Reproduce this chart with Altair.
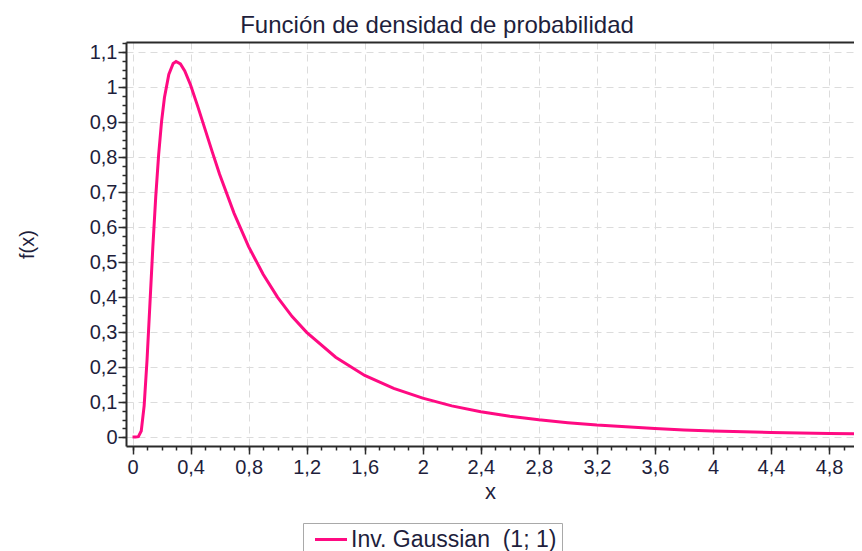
import altair as alt
import pandas as pd

# values
x_vals = [0.0, 0.02, 0.04, 0.06, 0.08, 0.10, 0.12, 0.14, 0.16, 0.18, 0.20, 0.22,
          0.25, 0.28, 0.30, 0.33, 0.36, 0.40, 0.45, 0.50, 0.55, 0.60, 0.70, 0.80,
          0.90, 1.0, 1.1, 1.2, 1.4, 1.6, 1.8, 2.0, 2.2, 2.4, 2.6, 2.8, 3.0, 3.2,
          3.4, 3.6, 3.8, 4.0, 4.4, 4.8, 5.0]
f_vals = [0.0, 0.0, 0.001, 0.017, 0.089, 0.220, 0.381, 0.543, 0.687, 0.807, 0.901, 0.970,
          1.036, 1.067, 1.073, 1.066, 1.046, 1.006, 0.944, 0.879, 0.814, 0.751, 0.639, 0.544,
          0.465, 0.399, 0.344, 0.299, 0.228, 0.176, 0.139, 0.111, 0.089, 0.072, 0.059, 0.049, 0.041, 0.034,
          0.029, 0.024, 0.020, 0.017, 0.013, 0.010, 0.009]
series_name = "Inv. Gaussian\u00a0 (1; 1)"

x_major = [0, 0.4, 0.8, 1.2, 1.6, 2, 2.4, 2.8, 3.2, 3.6, 4, 4.4, 4.8]
x_minor = [round(i * 0.1, 1) for i in range(0, 50)]
y_major = [0, 0.1, 0.2, 0.3, 0.4, 0.5, 0.6, 0.7, 0.8, 0.9, 1.0, 1.1]
y_minor = [round(i * 0.025, 3) for i in range(0, 46)]

df = pd.DataFrame({"x": x_vals, "f": f_vals, "serie": [series_name] * len(x_vals)})

TEXT = "#1e1e3c"
FONT = "Liberation Sans"
AXC = "#2a2a2a"
comma = "replace(format(datum.value, '.2~f'), '.', ',')"

xs = alt.Scale(domain=[-0.045, 4.972], nice=False, zero=False)
ys = alt.Scale(domain=[-0.0257, 1.1286], nice=False, zero=False)

main = alt.Chart(df).mark_line(strokeWidth=3, clip=True).encode(
    x=alt.X("x:Q", scale=xs, axis=alt.Axis(
        orient="bottom", values=x_major, tickSize=8, tickWidth=1.5, tickColor=AXC,
        domainColor=AXC, domainWidth=2, labelExpr=comma, labelFont=FONT,
        labelFontSize=20, labelColor=TEXT, labelPadding=3, labelFlush=False,
        labelOverlap=False, grid=True, gridColor="#dcdcdc", gridDash=[7, 5], gridWidth=1,
        title="x", titleFont=FONT, titleFontSize=22, titleFontWeight="normal",
        titleColor=TEXT, titleX=364, titleY=45, titleBaseline="middle", titleAlign="center")),
    y=alt.Y("f:Q", scale=ys, axis=alt.Axis(
        orient="left", values=y_major, tickSize=8, tickWidth=1.5, tickColor=AXC,
        domainColor=AXC, domainWidth=2, labelExpr=comma, labelFont=FONT,
        labelFontSize=20, labelColor=TEXT, labelPadding=1, labelFlush=False,
        labelOverlap=False, grid=True, gridColor="#dcdcdc", gridDash=[7, 5], gridWidth=1,
        title="f(x)", titleFont=FONT, titleFontSize=20, titleFontWeight="normal",
        titleColor=TEXT, titleX=-99, titleY=202, titleBaseline="middle",
        titleAlign="center", titleAngle=270)),
    color=alt.Color("serie:N", scale=alt.Scale(domain=[series_name], range=["#ff0a82"]),
                    legend=alt.Legend(
                        title=None, orient="none", legendX=177, legendY=481,
                        direction="horizontal", strokeColor="#a9a9a9", fillColor="white",
                        padding=5, symbolType="M-0.5625,0H3.4375", symbolSize=256,
                        symbolStrokeWidth=3, labelFont=FONT, labelFontSize=23,
                        labelLimit=500, labelColor=TEXT, labelOffset=20, cornerRadius=0)),
)

minor = alt.Chart(df).mark_line(opacity=0).encode(
    x=alt.X("x:Q", scale=xs, axis=alt.Axis(
        orient="bottom", values=x_minor, tickSize=4, tickWidth=1.5, tickColor=AXC,
        labels=False, domain=False, grid=False, title=None)),
    y=alt.Y("f:Q", scale=ys, axis=alt.Axis(
        orient="left", values=y_minor, tickSize=4, tickWidth=1.5, tickColor=AXC,
        labels=False, domain=False, grid=False, title=None)),
)

top = alt.Chart(df).mark_line(opacity=0).encode(
    x=alt.X("x:Q", scale=xs, axis=alt.Axis(
        orient="top", ticks=False, labels=False, grid=False, domain=True,
        domainColor=AXC, domainWidth=2, title=None)),
    y=alt.Y("f:Q", scale=ys, axis=None),
)

chart = alt.layer(main, minor, top).resolve_axis(
    x="independent", y="independent"
).properties(
    width=728, height=404,
    padding={"left": 118, "top": 34, "right": 0, "bottom": 105},
    autosize=alt.AutoSizeParams(type="none"),
    background="white",
    title=alt.Title("Función de densidad de probabilidad", font=FONT, fontSize=24,
                    fontWeight="normal", color=TEXT, dx=-53, offset=4, anchor="middle"),
).configure_view(stroke="transparent")

chart.save("out.html", embed_options={"renderer": "svg", "actions": False})
